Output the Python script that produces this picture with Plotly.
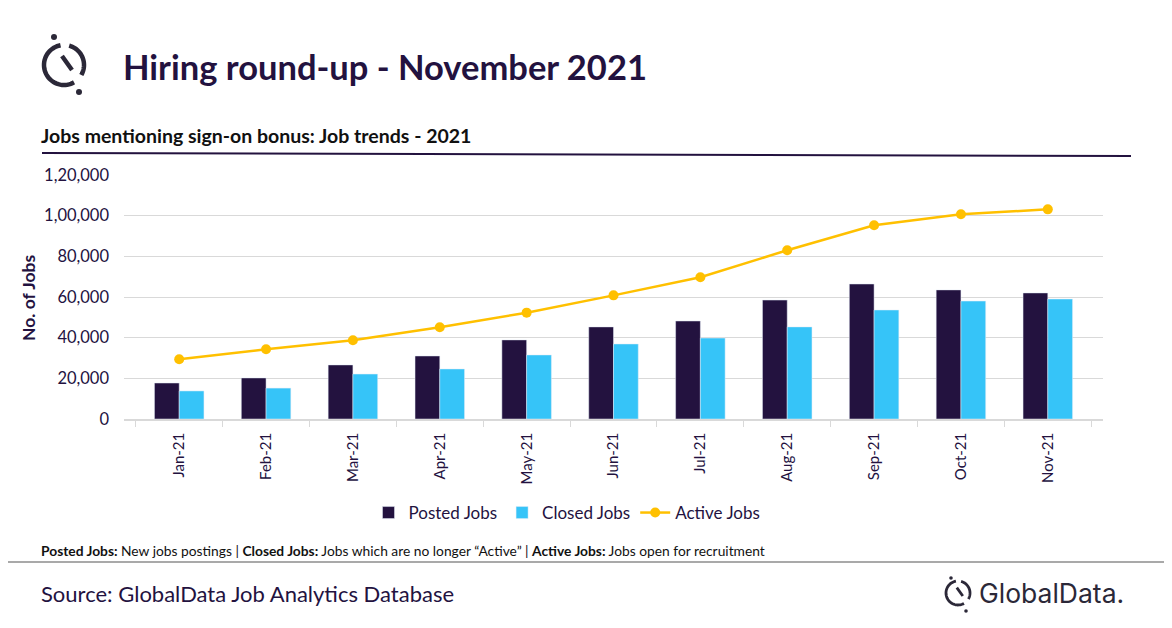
import numpy as np
import plotly.graph_objects as go

# Jobs mentioning sign-on bonus - 2021
months = ["Jan-21", "Feb-21", "Mar-21", "Apr-21", "May-21", "Jun-21",
          "Jul-21", "Aug-21", "Sep-21", "Oct-21", "Nov-21"]
posted_jobs = [17700, 20200, 26600, 31000, 38900, 45300, 48200, 58500, 66400, 63500, 62000]
closed_jobs = [13800, 15200, 22100, 24600, 31500, 36900, 39800, 45300, 53600, 58000, 59000]
active_jobs = [29400, 34300, 38700, 45100, 52300, 60800, 69700, 83000, 95300, 100700, 103100]

y_ticks = [0, 20000, 40000, 60000, 80000, 100000, 120000]
y_tick_labels = ["0", "20,000", "40,000", "60,000", "80,000", "1,00,000", "1,20,000"]

DARK = "#23123F"
FONT = "Lato"

# page size; the page body adds 8px, so positions below are screen pixels
W, H = 1172, 628
OFF = 8
PL, PR, PT, PB = 124, 1103, 175, 419   # plot area on screen
L, R, T, B = PL - OFF, W - (PR - OFF), PT - OFF, H - (PB - OFF)


def px(x, y):
    # screen pixel -> paper coordinates
    return (x - PL) / (PR - PL), (PB - y) / (PB - PT)


def logo_path(cx, cy, r, slash):
    # GlobalData mark: split circle with a slash
    parts = []
    for a0, a1 in [(100, 300), (75, -30)]:
        ang = np.radians(np.linspace(a0, a1, 40))
        pts = [px(cx + r * np.cos(a), cy - r * np.sin(a)) for a in ang]
        parts.append("M " + " L ".join(f"{p[0]:.5f},{p[1]:.5f}" for p in pts))
    s0 = px(cx + r * slash[0], cy + r * slash[1])
    s1 = px(cx + r * slash[2], cy + r * slash[3])
    parts.append(f"M {s0[0]:.5f},{s0[1]:.5f} L {s1[0]:.5f},{s1[1]:.5f}")
    return " ".join(parts)


def dot(cx, cy, r, color):
    x0, y0 = px(cx - r, cy + r)
    x1, y1 = px(cx + r, cy - r)
    return dict(type="circle", xref="paper", yref="paper", x0=x0, y0=y0, x1=x1, y1=y1,
                fillcolor=color, line_width=0, layer="above")


fig = go.Figure()

fig.add_trace(go.Bar(x=months, y=posted_jobs, name="Posted Jobs", marker_color=DARK))
fig.add_trace(go.Bar(x=months, y=closed_jobs, name="Closed Jobs", marker_color="#36C4F8"))
fig.add_trace(go.Scatter(x=months, y=active_jobs, name="Active Jobs", mode="lines+markers",
                         line=dict(color="#FFC000", width=2.5),
                         marker=dict(size=10, color="#FFC000")))

shapes = []
# rule under the subtitle
a = px(42, 153)
b = px(1131, 156)
shapes.append(dict(type="line", xref="paper", yref="paper", x0=a[0], y0=a[1], x1=b[0], y1=b[1],
                   line=dict(color=DARK, width=2)))
# grey rule above the source
a = px(0, 562)
b = px(1180, 562)
shapes.append(dict(type="line", xref="paper", yref="paper", x0=a[0], y0=a[1], x1=b[0], y1=b[1],
                   line=dict(color="#8c8c8c", width=1.5)))
# top-left logo
shapes.append(dict(type="path", xref="paper", yref="paper",
                   path=logo_path(64, 65, 20, (-0.1, -0.45, 0.4, 0.25)),
                   line=dict(color="#2B2838", width=4.5)))
shapes.append(dot(54, 37, 3, "#2B2838"))
shapes.append(dot(79, 92, 3, "#2B2838"))
# bottom-right logo
shapes.append(dict(type="path", xref="paper", yref="paper",
                   path=logo_path(958, 593, 12, (-0.1, -0.45, 0.4, 0.25)),
                   line=dict(color="#2B2838", width=2.8)))
shapes.append(dot(951, 578, 1.8, "#2B2838"))
shapes.append(dot(966, 611, 1.8, "#2B2838"))

annotations = []


def note(x, y, text, size, anchor="left", bold=False, color=DARK, family=FONT, angle=0):
    xx, yy = px(x, y)
    annotations.append(dict(xref="paper", yref="paper", x=xx, y=yy, text=f"<b>{text}</b>" if bold else text,
                            showarrow=False, xanchor=anchor, yanchor="middle", textangle=angle,
                            font=dict(size=size, color=color, family=family)))


note(121, 66, "Hiring round-up - November 2021", 34.5, bold=True)
note(39, 135, "Jobs mentioning sign-on bonus: Job trends - 2021", 19.5, bold=True, color="#111111")
note(28, 298, "No. of Jobs", 17.5, anchor="center", bold=True, angle=-90)
note(39, 550, "<b>Posted Jobs:</b> New jobs postings | <b>Closed Jobs:</b> Jobs which are no longer \u201cActive\u201d | "
              "<b>Active Jobs:</b> Jobs open for recruitment", 13.8, color="#111111")
note(39, 593, "Source: GlobalData Job Analytics Database", 22)
note(977, 593, "GlobalData.", 26.5, color="#2B2838", family="Inter")

lx, ly = px(567, 513)

fig.update_layout(
    width=W, height=H,
    margin=dict(l=L, r=R, t=T, b=B),
    paper_bgcolor="white", plot_bgcolor="white",
    font=dict(family=FONT, color=DARK),
    barmode="group", bargap=0.43, bargroupgap=0,
    showlegend=True,
    legend=dict(orientation="h", x=lx, y=ly, xanchor="center", yanchor="middle",
                font=dict(size=17, color=DARK), traceorder="normal"),
    xaxis=dict(showline=True, linecolor="#D9D9D9", linewidth=1.5, ticks="outside",
               tickson="boundaries", ticklen=6, tickcolor="#D9D9D9", tickangle=-90,
               tickfont=dict(size=15, color=DARK), showgrid=False, ticklabelstandoff=6),
    yaxis=dict(range=[0, 120000], tickvals=y_ticks, ticktext=y_tick_labels,
               tickfont=dict(size=16.5, color=DARK), gridcolor="#D9D9D9", gridwidth=1.2,
               zeroline=False, ticklabelstandoff=14),
    shapes=shapes,
    annotations=annotations,
)

fig.write_html("out.html")
